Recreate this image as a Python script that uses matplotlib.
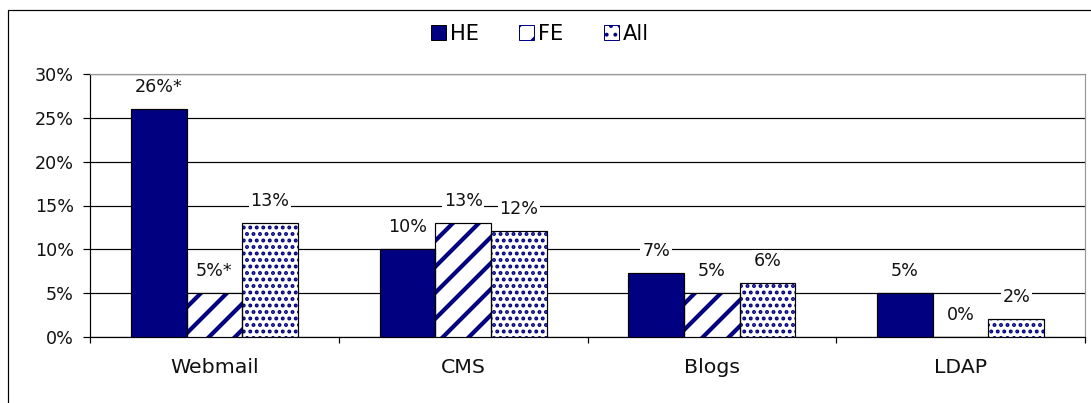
import matplotlib
matplotlib.use("Agg")
import matplotlib.pyplot as plt
from matplotlib.patches import Rectangle, Patch
import numpy as np

DPI = 156
W_PX, H_PX = 1091, 403


def px(n):
    """Convert a pixel length to points at the figure resolution."""
    return n * 72.0 / DPI


plt.rcParams['font.family'] = ['DejaVu Sans']

categories = ["Webmail", "CMS", "Blogs", "LDAP"]
series_names = ["HE", "FE", "All"]
he_values = [26, 10, 7.3, 5]
fe_values = [5, 13, 5, 0]
all_values = [13, 12.1, 6.2, 2.1]
label_suffix = {("HE", 0): "*", ("FE", 0): "*"}
y_ticks = [0, 5, 10, 15, 20, 25, 30]

NAVY = "#000080"
TEXT = "#111111"

fig = plt.figure(figsize=(W_PX / DPI, H_PX / DPI), dpi=DPI)
ax = fig.add_axes([90 / W_PX, 1 - 337 / H_PX, (1085 - 90) / W_PX, (337 - 74) / H_PX])

# outer chart frame
fig.add_artist(Rectangle((8 / W_PX, -0.1), 1.2, 1 - 10 / H_PX + 0.1,
                         transform=fig.transFigure, fill=False,
                         edgecolor="black", linewidth=px(1.2)))

x = np.arange(len(categories))
width = 0.224
all_series = [he_values, fe_values, all_values]
offsets = [-width, 0, width]
hatches = [None, "//", "...."]
hatch_lws = [px(1), px(4.2), px(2.6)]

for name, vals, off, hatch, hlw in zip(series_names, all_series, offsets, hatches, hatch_lws):
    pos = x + off
    with plt.rc_context({"hatch.linewidth": hlw}):
        if hatch:
            ax.bar(pos, vals, width, color="white", edgecolor=NAVY,
                   hatch=hatch, linewidth=0, zorder=3)
        else:
            ax.bar(pos, vals, width, color=NAVY, linewidth=0, zorder=3)
    ax.bar(pos, vals, width, fill=False, edgecolor="black",
           linewidth=px(1.2), zorder=4)
    for ci, v in enumerate(vals):
        txt = f"{v:.0f}%" + label_suffix.get((name, ci), "")
        ax.annotate(txt, (pos[ci], v), xytext=(0, px(22)), textcoords="offset points",
                    ha="center", va="center", fontsize=px(17.5), color=TEXT,
                    bbox=dict(boxstyle="square,pad=0.1", fc="white", ec="none"),
                    zorder=5)

ax.set_xlim(-0.5, len(categories) - 0.5)
ax.set_ylim(0, 30)
ax.set_yticks(y_ticks)
ax.set_yticklabels([f"{t}%" for t in y_ticks], fontsize=px(17.5), color=TEXT)
ax.yaxis.grid(True, color="black", linewidth=px(1.2), zorder=1)
ax.set_axisbelow(True)

ax.set_xticks(x)
ax.set_xticklabels(categories, fontsize=px(20.5), color=TEXT)
ax.set_xticks(np.arange(len(categories) + 1) - 0.5, minor=True)
ax.tick_params(axis="x", which="major", length=0, pad=px(21))
ax.tick_params(axis="x", which="minor", length=px(6), width=px(1.2), direction="out")
ax.tick_params(axis="y", length=px(7), width=px(1.2), direction="out", pad=px(9))

for side in ("left", "bottom"):
    ax.spines[side].set_color("black")
    ax.spines[side].set_linewidth(px(1.2))
for side in ("top", "right"):
    ax.spines[side].set_color("#999999")
    ax.spines[side].set_linewidth(px(1.2))

with plt.rc_context({"hatch.linewidth": px(2.5)}):
    handles = [
        Patch(facecolor=NAVY, edgecolor="black", linewidth=px(1)),
        Patch(facecolor="white", edgecolor=NAVY, hatch="//", linewidth=px(1)),
        Patch(facecolor="white", edgecolor=NAVY, hatch="...", linewidth=px(1)),
    ]
fig.legend(handles, series_names, loc="center", bbox_to_anchor=(540 / W_PX, 1 - 34 / H_PX),
           ncol=3, frameon=False, fontsize=px(21), handlelength=0.72, handleheight=0.72,
           handletextpad=0.2, columnspacing=1.9, borderpad=0, borderaxespad=0)

fig.savefig("out.png", dpi=DPI)
